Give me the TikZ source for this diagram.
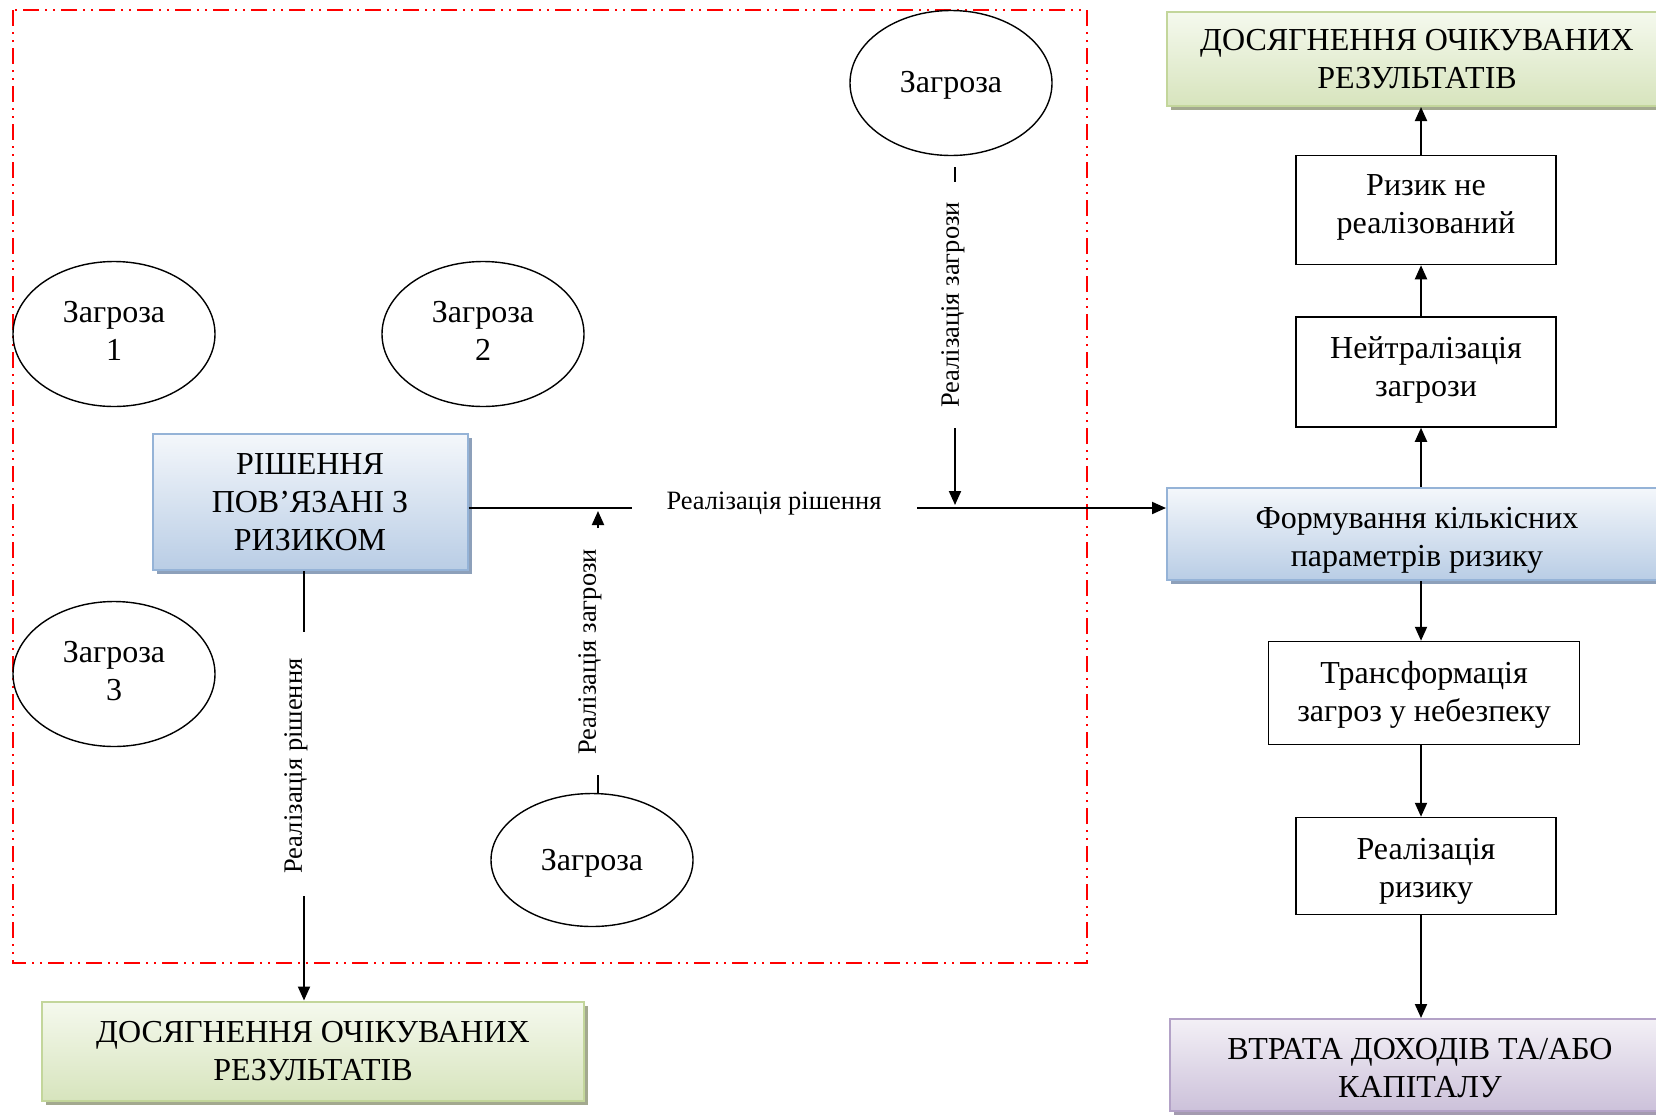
\documentclass[tikz,border=0pt]{standalone}
\usepackage{fontspec}
\setmainfont{Liberation Serif}
\usetikzlibrary{arrows.meta,shadows,shapes.geometric}
\definecolor{blueborder}{HTML}{95B3D7}
\definecolor{bluetop}{HTML}{F4F7FB}
\definecolor{bluebot}{HTML}{B9CDE5}
\definecolor{blueshadow}{HTML}{8DA0BA}
\definecolor{greenborder}{HTML}{C3D69B}
\definecolor{greentop}{HTML}{F5F9EE}
\definecolor{greenbot}{HTML}{D7E4BD}
\definecolor{greenshadow}{HTML}{A3A98F}
\definecolor{purpborder}{HTML}{B3A2C7}
\definecolor{purptop}{HTML}{F3F0F6}
\definecolor{purpbot}{HTML}{CCC1DA}
\definecolor{purpshadow}{HTML}{A49BB0}
\newcommand{\mvtext}[2]{\raisebox{#1}[\height][\depth]{\begin{tabular}{@{}c@{}}#2\end{tabular}}}
\tikzset{
  base/.style={font=\fontsize{32}{38}\selectfont, align=center, inner sep=0pt},
  plainbox/.style={base, draw=black, line width=1.5pt, fill=white},
  colbox/.style={base, line width=2pt},
  bluebox/.style={colbox, draw=blueborder, top color=bluetop, bottom color=bluebot,
    drop shadow={shadow xshift=4pt, shadow yshift=-4pt, fill=blueshadow, opacity=1}},
  greenbox/.style={colbox, draw=greenborder, top color=greentop, bottom color=greenbot,
    drop shadow={shadow xshift=4pt, shadow yshift=-4pt, fill=greenshadow, opacity=1}},
  purplebox/.style={colbox, draw=purpborder, top color=purptop, bottom color=purpbot,
    drop shadow={shadow xshift=4pt, shadow yshift=-4pt, fill=purpshadow, opacity=1}},
  threat/.style={base, ellipse, draw=black, line width=1.4pt, fill=white,
    minimum width=202pt, minimum height=145pt},
  lbl/.style={font=\fontsize{26.5}{30}\selectfont, inner sep=0pt},
  conn/.style={line width=2pt},
  arr/.style={conn, -{Triangle[length=14pt,width=12pt]}},
  zone/.style={draw=red, line width=1.8pt,
    dash pattern=on 16pt off 6pt on 2pt off 6pt on 2pt off 6pt}
}
\begin{document}
\begin{tikzpicture}[x=1pt,y=-1pt]
\renewcommand{\arraystretch}{1}
\useasboundingbox (0,0) rectangle (1656,1114);
% risk zone
\draw[zone] (13,10) rectangle (1087,963);

% right column
\coordinate (rc) at (1421,0);
\node[greenbox, minimum width=500pt, minimum height=94pt] (resTop) at (1417,59) {ДОСЯГНЕННЯ ОЧІКУВАНИХ\\РЕЗУЛЬТАТІВ};
\node[plainbox, minimum width=260pt, minimum height=109pt] (notreal) at (1426,210) {\mvtext{3pt}{Ризик не\\реалізований}};
\node[plainbox, minimum width=260pt, minimum height=110pt] (neut) at (1426,372) {\mvtext{2.5pt}{Нейтралізація\\загрози}};
\node[bluebox, minimum width=500pt, minimum height=92pt] (form) at (1417,534) {\mvtext{-6pt}{Формування кількісних\\параметрів ризику}};
\node[plainbox, minimum width=311pt, minimum height=103pt] (transf) at (1424,693) {\mvtext{-2pt}{Трансформація\\загроз у небезпеку}};
\node[plainbox, minimum width=260pt, minimum height=97pt] (realrisk) at (1426,866) {\mvtext{-5pt}{Реалізація\\ризику}};
\node[purplebox, minimum width=500pt, minimum height=92pt] (loss) at (1420,1065) {\mvtext{-6pt}{ВТРАТА ДОХОДІВ ТА/АБО\\КАПІТАЛУ}};

% left part
\node[bluebox, minimum width=315pt, minimum height=136pt] (rish) at (310,502) {РІШЕННЯ\\ПОВ’ЯЗАНІ З\\РИЗИКОМ};
\node[greenbox, minimum width=542pt, minimum height=99pt] (resBot) at (313,1051) {ДОСЯГНЕННЯ ОЧІКУВАНИХ\\РЕЗУЛЬТАТІВ};

\node[threat] (t1) at (114,334) {\mvtext{0.5pt}{Загроза\\1}};
\node[threat] (t2) at (483,334) {\mvtext{0.5pt}{Загроза\\2}};
\node[threat] (t3) at (114,674) {\mvtext{0.5pt}{Загроза\\3}};
\node[threat] (ttop) at (951,83) {\mvtext{-2pt}{Загроза}};
\node[threat, minimum height=133pt] (tbot) at (592,860) {\mvtext{-3pt}{Загроза}};

% right column connectors
\draw[arr] (form.north -| rc) -- (neut.south -| rc);
\draw[arr] (neut.north -| rc) -- (notreal.south -| rc);
\draw[arr] (notreal.north -| rc) -- (resTop.south -| rc);
\draw[arr] (form.south -| rc) -- (transf.north -| rc);
\draw[arr] (transf.south -| rc) -- (realrisk.north -| rc);
\draw[arr] (realrisk.south -| rc) -- (loss.north -| rc);

% horizontal decision line
\coordinate (h1) at (632,508);
\coordinate (h2) at (917,508);
\node[lbl] (lblH) at (774,504) {Реалізація рішення};
\draw[conn] (rish.east |- h1) -- (h1);
\draw[arr] (h2) -- (form.west |- h2);

% threat from top
\coordinate (ta) at (955,167);
\coordinate (tb) at (955,182);
\coordinate (tc) at (955,428);
\coordinate (td) at (955,505);
\node[lbl, rotate=90] (lblT) at (953,305) {Реалізація загрози};
\draw[conn] (ta) -- (tb);
\draw[arr] (tc) -- (td);

% threat from bottom
\coordinate (ba) at (598,793);
\coordinate (bb) at (598,775);
\coordinate (bc) at (598,528);
\coordinate (bd) at (598,511);
\node[lbl, rotate=90] (lblB) at (590,652) {Реалізація загрози};
\draw[conn] (ba) -- (bb);
\draw[arr] (bc) -- (bd);

% decision downwards
\coordinate (da) at (304,632);
\coordinate (db) at (304,896);
\node[lbl, rotate=90] (lblD) at (296,766) {Реалізація рішення};
\draw[conn] (rish.south -| da) -- (da);
\draw[arr] (db) -- (resBot.north -| db);
\end{tikzpicture}
\end{document}
